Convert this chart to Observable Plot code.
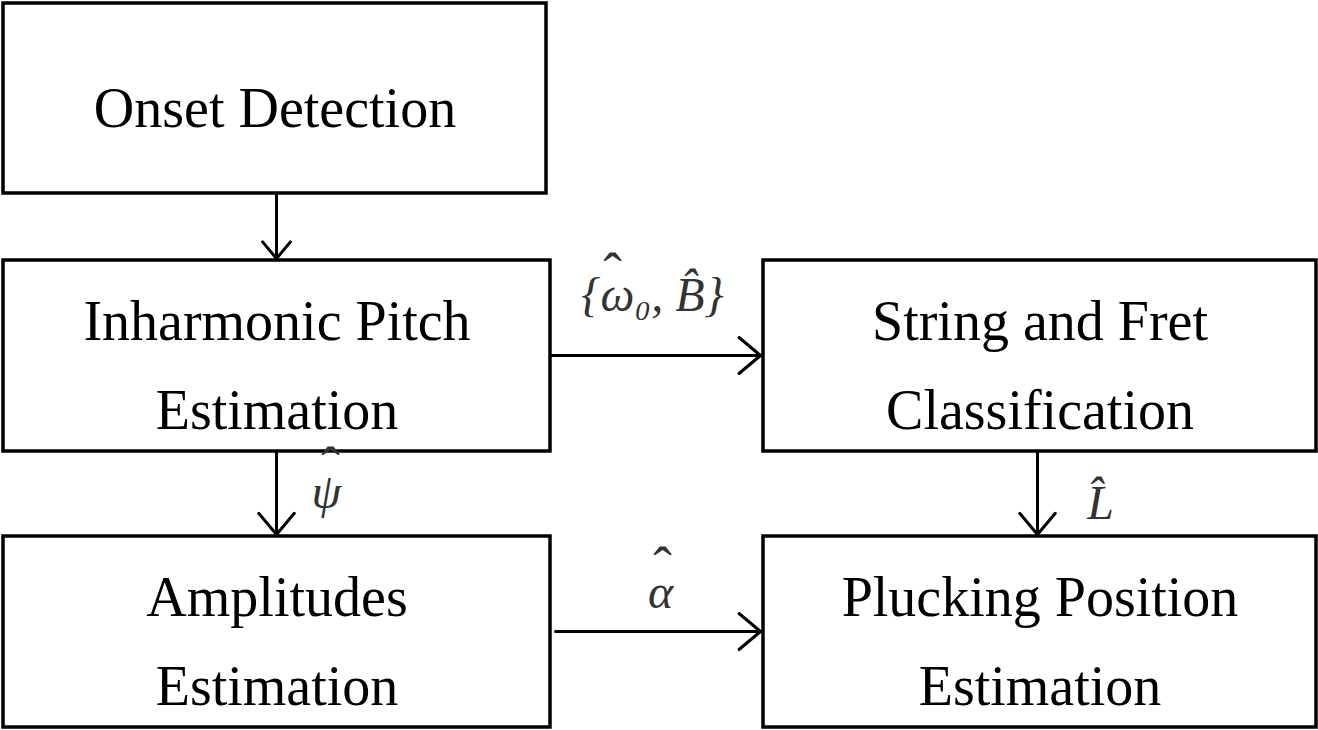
<!DOCTYPE html>
<html>
<head>
<meta charset="utf-8">
<script src="https://cdn.jsdelivr.net/npm/d3@7"></script>
<script src="https://cdn.jsdelivr.net/npm/@observablehq/plot@0.6"></script>
<style>
  body { margin: 0; background: #fff; }
</style>
</head>
<body>
<div id="chart"></div>
<script>
// blocks of the flowchart
const boxNames = ["Onset Detection", "Inharmonic Pitch\nEstimation", "String and Fret\nClassification", "Amplitudes\nEstimation", "Plucking Position\nEstimation"]
const boxX1 = [3, 3, 763, 3, 763]
const boxX2 = [546, 550, 1316, 550, 1316]
const boxY1 = [3, 260, 260, 536, 536]
const boxY2 = [193, 451, 451, 727, 727]

// connections between blocks (vertical, then horizontal)
const vArrowX = [276, 276, 1037]
const vArrowY1 = [193, 451, 451]
const vArrowY2 = [258, 534, 534]
const hArrowX1 = [550, 555]
const hArrowX2 = [760, 760]
const hArrowY = [355, 631]

// labels on the arrows, and the hats drawn over them
const labelText = ["{ω\u2080, B\u0302}", "\u03C8", "L\u0302", "\u03B1"]
const labelX = [652, 326, 1100, 660]
const labelY = [295, 492, 503, 592]
const hatX = [612, 330, 662]
const hatY = [274, 468, 568]

const boxes = boxNames.map((name, i) => ({name, x1: boxX1[i], x2: boxX2[i], y1: boxY1[i], y2: boxY2[i]}))
const vArrows = vArrowX.map((x, i) => ({x, y1: vArrowY1[i], y2: vArrowY2[i]}))
const hArrows = hArrowY.map((y, i) => ({y, x1: hArrowX1[i], x2: hArrowX2[i]}))
const labels = labelText.map((t, i) => ({t, x: labelX[i], y: labelY[i]}))
const hats = hatX.map((x, i) => ({x, y: hatY[i]}))

let chart = Plot.plot({
  width: 1318,
  height: 730,
  margin: 0,
  x: {domain: [0, 1318], axis: null},
  y: {domain: [730, 0], axis: null},
  style: {fontFamily: "Liberation Serif", background: "#fff"},
  marks: [
    Plot.rect(boxes, {x1: "x1", x2: "x2", y1: "y1", y2: "y2", fill: "none", stroke: "black", strokeWidth: 3.5}),
    Plot.text(boxes, {x: d => (d.x1 + d.x2) / 2, y: d => (d.y1 + d.y2) / 2, text: "name",
      fontSize: 56, lineHeight: 1.6, fill: "black"}),
    Plot.arrow(vArrows, {x1: "x", y1: "y1", x2: "x", y2: "y2", stroke: "black", strokeWidth: 3,
      headLength: 30, headAngle: 80}),
    Plot.arrow(hArrows, {x1: "x1", y1: "y", x2: "x2", y2: "y", stroke: "black", strokeWidth: 3,
      headLength: 14, headAngle: 80}),
    Plot.text(labels, {x: "x", y: "y", text: "t", fontSize: 48, fontStyle: "italic",
      fontWeight: (d, i) => (i == 1 || i == 3) ? "bold" : "normal", fill: "#333"}),
    Plot.text(hats, {x: "x", y: "y", text: () => "\u02C6", fontSize: 56, fill: "#333"})
  ]
})
d3.select('#chart').append(() => chart)
</script>
</body>
</html>
